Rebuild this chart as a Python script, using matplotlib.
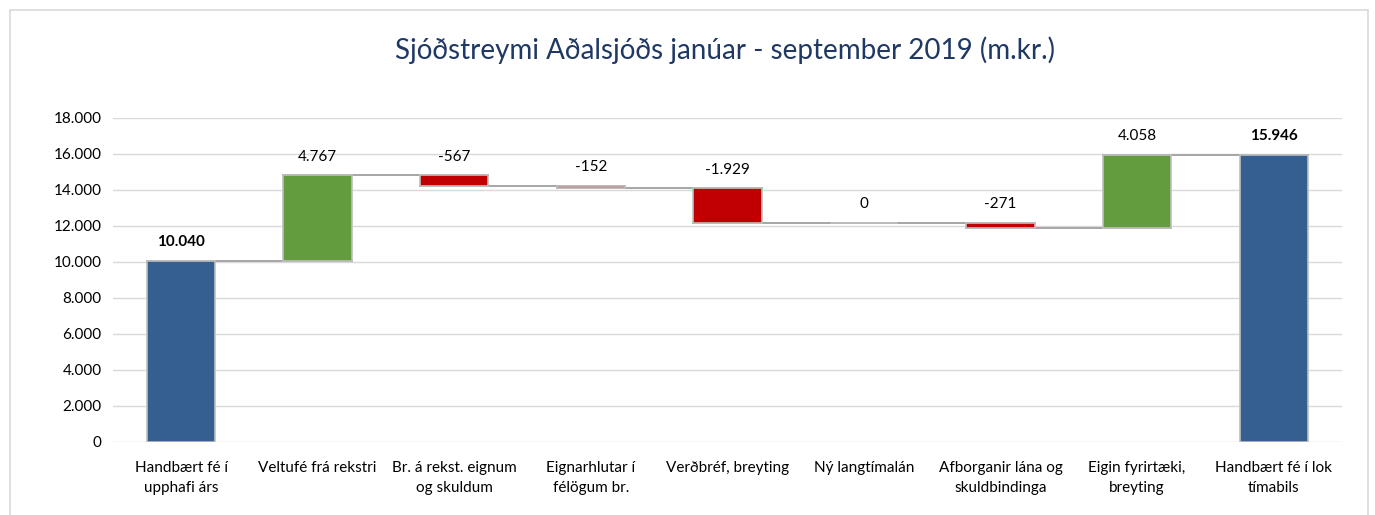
import numpy as np
import matplotlib.pyplot as plt
from matplotlib.patches import Rectangle

plt.rcParams['font.family'] = ['Lato', 'DejaVu Sans']

categories = ['Handbært fé í\nupphafi árs', 'Veltufé frá rekstri', 'Br. á rekst. eignum\nog skuldum',
              'Eignarhlutar í\nfélögum br.', 'Verðbréf, breyting', 'Ný langtímalán',
              'Afborganir lána og\nskuldbindinga', 'Eigin fyrirtæki,\nbreyting', 'Handbært fé í lok\ntímabils']
changes = [10040, 4767, -567, -152, -1929, 0, -271, 4058, 15946]
is_total = [True, False, False, False, False, False, False, False, True]
labels = ['10.040', '4.767', '-567', '-152', '-1.929', '0', '-271', '4.058', '15.946']
yticks = np.arange(0, 18001, 2000)

blue = '#365F91'
green = '#629C3F'
red = '#C00000'

fig = plt.figure(figsize=(13.75, 5.15), dpi=100)
ax = fig.add_axes([0.082, 0.142, 0.894, 0.629])

# bottoms / tops of the floating bars
bottoms, tops = [], []
level = 0
for v, tot in zip(changes, is_total):
    if tot:
        b, t = 0, v
        level = v
    else:
        b, t = min(level, level + v), max(level, level + v)
        level = level + v
    bottoms.append(b)
    tops.append(t)

x = np.arange(len(categories))
w = 0.5
for i in range(len(x)):
    if is_total[i]:
        c = blue
    elif changes[i] >= 0:
        c = green
    else:
        c = red
    h = tops[i] - bottoms[i]
    ax.bar(x[i], h if h > 0 else 1, bottom=bottoms[i], width=w, color=c,
           edgecolor='#BFBFBF', linewidth=1.2, zorder=3)
    ax.text(x[i], tops[i] + 650, labels[i], ha='center', va='bottom', fontsize=11,
            fontweight='bold' if is_total[i] else 'normal', color='#000000', zorder=4)

# connectors
level = 0
for i in range(len(x) - 1):
    level = changes[i] if is_total[i] else level + changes[i]
    ax.plot([x[i] - w / 2, x[i + 1] + w / 2], [level, level], color='#A6A6A6',
            linewidth=1.4, zorder=2)

ax.set_xlim(-0.5, len(x) - 0.5)
ax.set_ylim(0, 18000)
ax.set_yticks(yticks)
ax.set_yticklabels([f'{v:,}'.replace(',', '.') for v in yticks], fontsize=11)
ax.set_xticks(x)
ax.set_xticklabels(categories, fontsize=11, linespacing=1.5)
ax.grid(axis='y', color='#D9D9D9', linewidth=1, zorder=0)
for s in ax.spines.values():
    s.set_visible(False)
ax.tick_params(axis='both', length=0, pad=8)
ax.tick_params(axis='x', pad=14)

fig.suptitle('Sjóðstreymi Aðalsjóðs janúar - september 2019 (m.kr.)', x=0.527, y=0.93,
             fontsize=20, color='#1F3864')

fig.patches.append(Rectangle((0.007, -0.02), 0.988, 1.0, transform=fig.transFigure,
                             fill=False, edgecolor='#D9D9D9', linewidth=1.2))

fig.savefig('out.png', dpi=100)
